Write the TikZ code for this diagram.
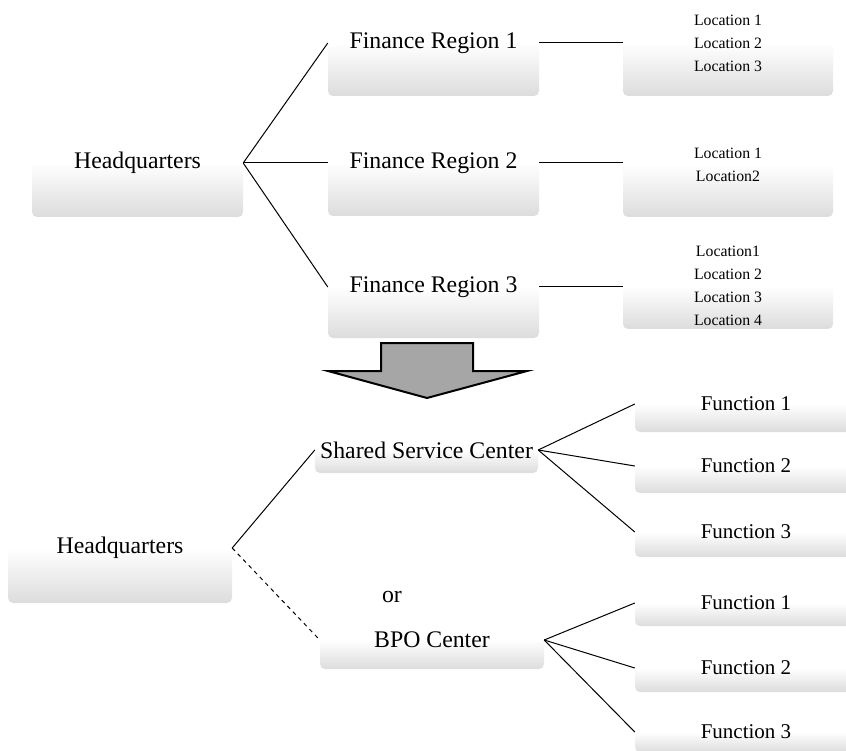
\documentclass[tikz,border=0pt]{standalone}
\usepackage{fontspec}
\setmainfont{Liberation Serif}
\definecolor{boxgray}{RGB}{220,220,220}
\definecolor{arrowgray}{RGB}{166,166,166}
\tikzset{
  box/.style={rounded corners=5pt, top color=white, bottom color=boxgray, middle color=white,
    draw=none, inner sep=0pt, font=\fontsize{23.8}{26}\selectfont},
  fbox/.style={box, font=\fontsize{21}{24}\selectfont},
  lbox/.style={box, align=center, font=\fontsize{15.8}{23}\selectfont},
  conn/.style={line width=1pt, black},
  dconn/.style={conn, dash pattern=on 4pt off 4pt},
}
\begin{document}
\begin{tikzpicture}[x=1pt, y=-1pt]
\useasboundingbox (0,0) rectangle (846,751);
% upper part
\node[box, minimum width=211pt, minimum height=108pt] (hq1) at (137.5,163) {Headquarters};
\node[box, minimum width=211pt, minimum height=106pt] (fr1) at (433.5,43) {Finance Region 1};
\node[box, minimum width=211pt, minimum height=106pt] (fr2) at (433.5,163) {Finance Region 2};
\node[box, minimum width=211pt, minimum height=102pt] (fr3) at (433.5,287) {Finance Region 3};
\node[lbox, minimum width=210pt, minimum height=106pt] (l1) at (728,43) {Location 1\\Location 2\\Location 3};
\node[lbox, minimum width=210pt, minimum height=105pt] (l2) at (728,164.5) {Location 1\\Location2};
\node[lbox, minimum width=210pt, minimum height=86pt] (l3) at (728,286) {Location1\\Location 2\\Location 3\\Location 4};
\draw[conn] (hq1.east) -- (fr1.west);
\draw[conn] (hq1.east) -- (fr2.west);
\draw[conn] (hq1.east) -- (fr3.west);
\draw[conn] (fr1.east) -- (l1.west |- fr1.east);
\draw[conn] (fr2.east) -- (l2.west |- fr2.east);
\draw[conn] (fr3.east) -- (l3.west |- fr3.east);
% big arrow
\draw[line width=2pt, fill=arrowgray, line join=miter]
  (381,343) -- (473,343) -- (473,371) -- (527,371) -- (427,398) -- (328,371) -- (381,371) -- cycle;
% lower part
\node[box, minimum width=224pt, minimum height=110pt] (hq2) at (120,548) {Headquarters};
\node[box, minimum width=223pt, minimum height=46pt] (ssc) at (426.5,450) {Shared Service Center};
\node[box, minimum width=224pt, minimum height=58pt] (bpo) at (432,640) {BPO Center};
\node[font=\fontsize{23.8}{26}\selectfont, inner sep=0pt] (or) at (392,597) {or};
\node[fbox, minimum width=222pt, minimum height=56pt] (sf1) at (746,404) {Function 1};
\node[fbox, minimum width=222pt, minimum height=54pt] (sf2) at (746,466) {Function 2};
\node[fbox, minimum width=222pt, minimum height=50pt] (sf3) at (746,532) {Function 3};
\node[fbox, minimum width=222pt, minimum height=46pt] (bf1) at (746,603) {Function 1};
\node[fbox, minimum width=222pt, minimum height=48pt] (bf2) at (746,668) {Function 2};
\node[fbox, minimum width=222pt, minimum height=40pt] (bf3) at (746,732) {Function 3};
\draw[conn] (hq2.east) -- (ssc.west);
\draw[dconn] (hq2.east) -- (bpo.west);
\draw[conn] (ssc.east) -- (sf1.west);
\draw[conn] (ssc.east) -- (sf2.west);
\draw[conn] (ssc.east) -- (sf3.west);
\draw[conn] (bpo.east) -- (bf1.west);
\draw[conn] (bpo.east) -- (bf2.west);
\draw[conn] (bpo.east) -- (bf3.west);
\end{tikzpicture}
\end{document}
